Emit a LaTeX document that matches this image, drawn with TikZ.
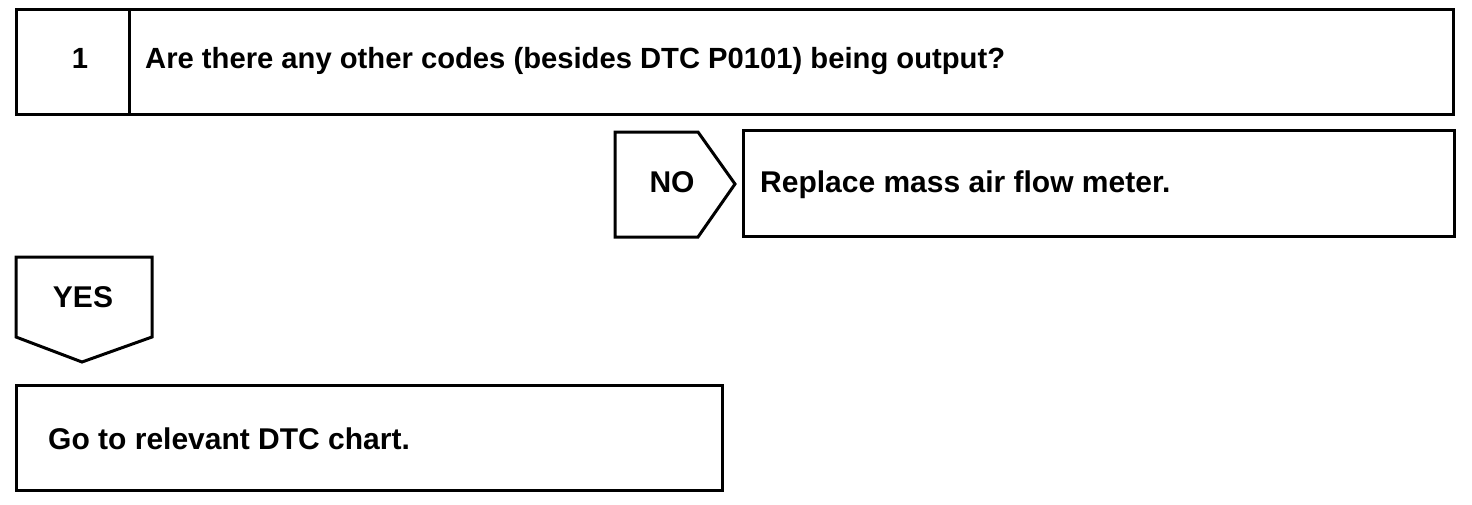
\documentclass[tikz,border=0pt]{standalone}
\usepackage{fontspec}
\setmainfont{Liberation Sans}
\begin{document}
\begin{tikzpicture}[x=1pt,y=-1pt,
  frame/.style={draw=black, line width=3pt, line join=miter},
  lbl/.style={font=\fontsize{30}{34}\selectfont\bfseries, inner sep=0pt},
  qlbl/.style={font=\fontsize{29.2}{34}\selectfont\bfseries, inner sep=0pt}]
\useasboundingbox (0,0) rectangle (1472,504);
% step box
\draw[frame] (16,9) rectangle (1453,114);
\draw[frame] (129,9) -- (129,114);
\node[qlbl, anchor=base] (num) at (80,68) {1};
\node[qlbl, anchor=base west] (q) at (145,68) {Are there any other codes (besides DTC P0101) being output?};
% NO arrow
\draw[frame] (615,132) -- (698,132) -- (735,184) -- (698,237) -- (615,237) -- cycle;
\node[lbl, anchor=base] (no) at (672,192) {NO};
\draw[frame] (743,130) rectangle (1454,236);
\node[lbl, anchor=base west] (rep) at (760,192) {Replace mass air flow meter.};
% YES arrow
\draw[frame] (16,257) -- (152,257) -- (152,337) -- (82,362) -- (16,337) -- cycle;
\node[lbl, anchor=base] (yes) at (83,307) {YES};
\draw[frame] (16,385) rectangle (722,490);
\node[lbl, anchor=base west] (go) at (48,449) {Go to relevant DTC chart.};
\end{tikzpicture}
\end{document}
